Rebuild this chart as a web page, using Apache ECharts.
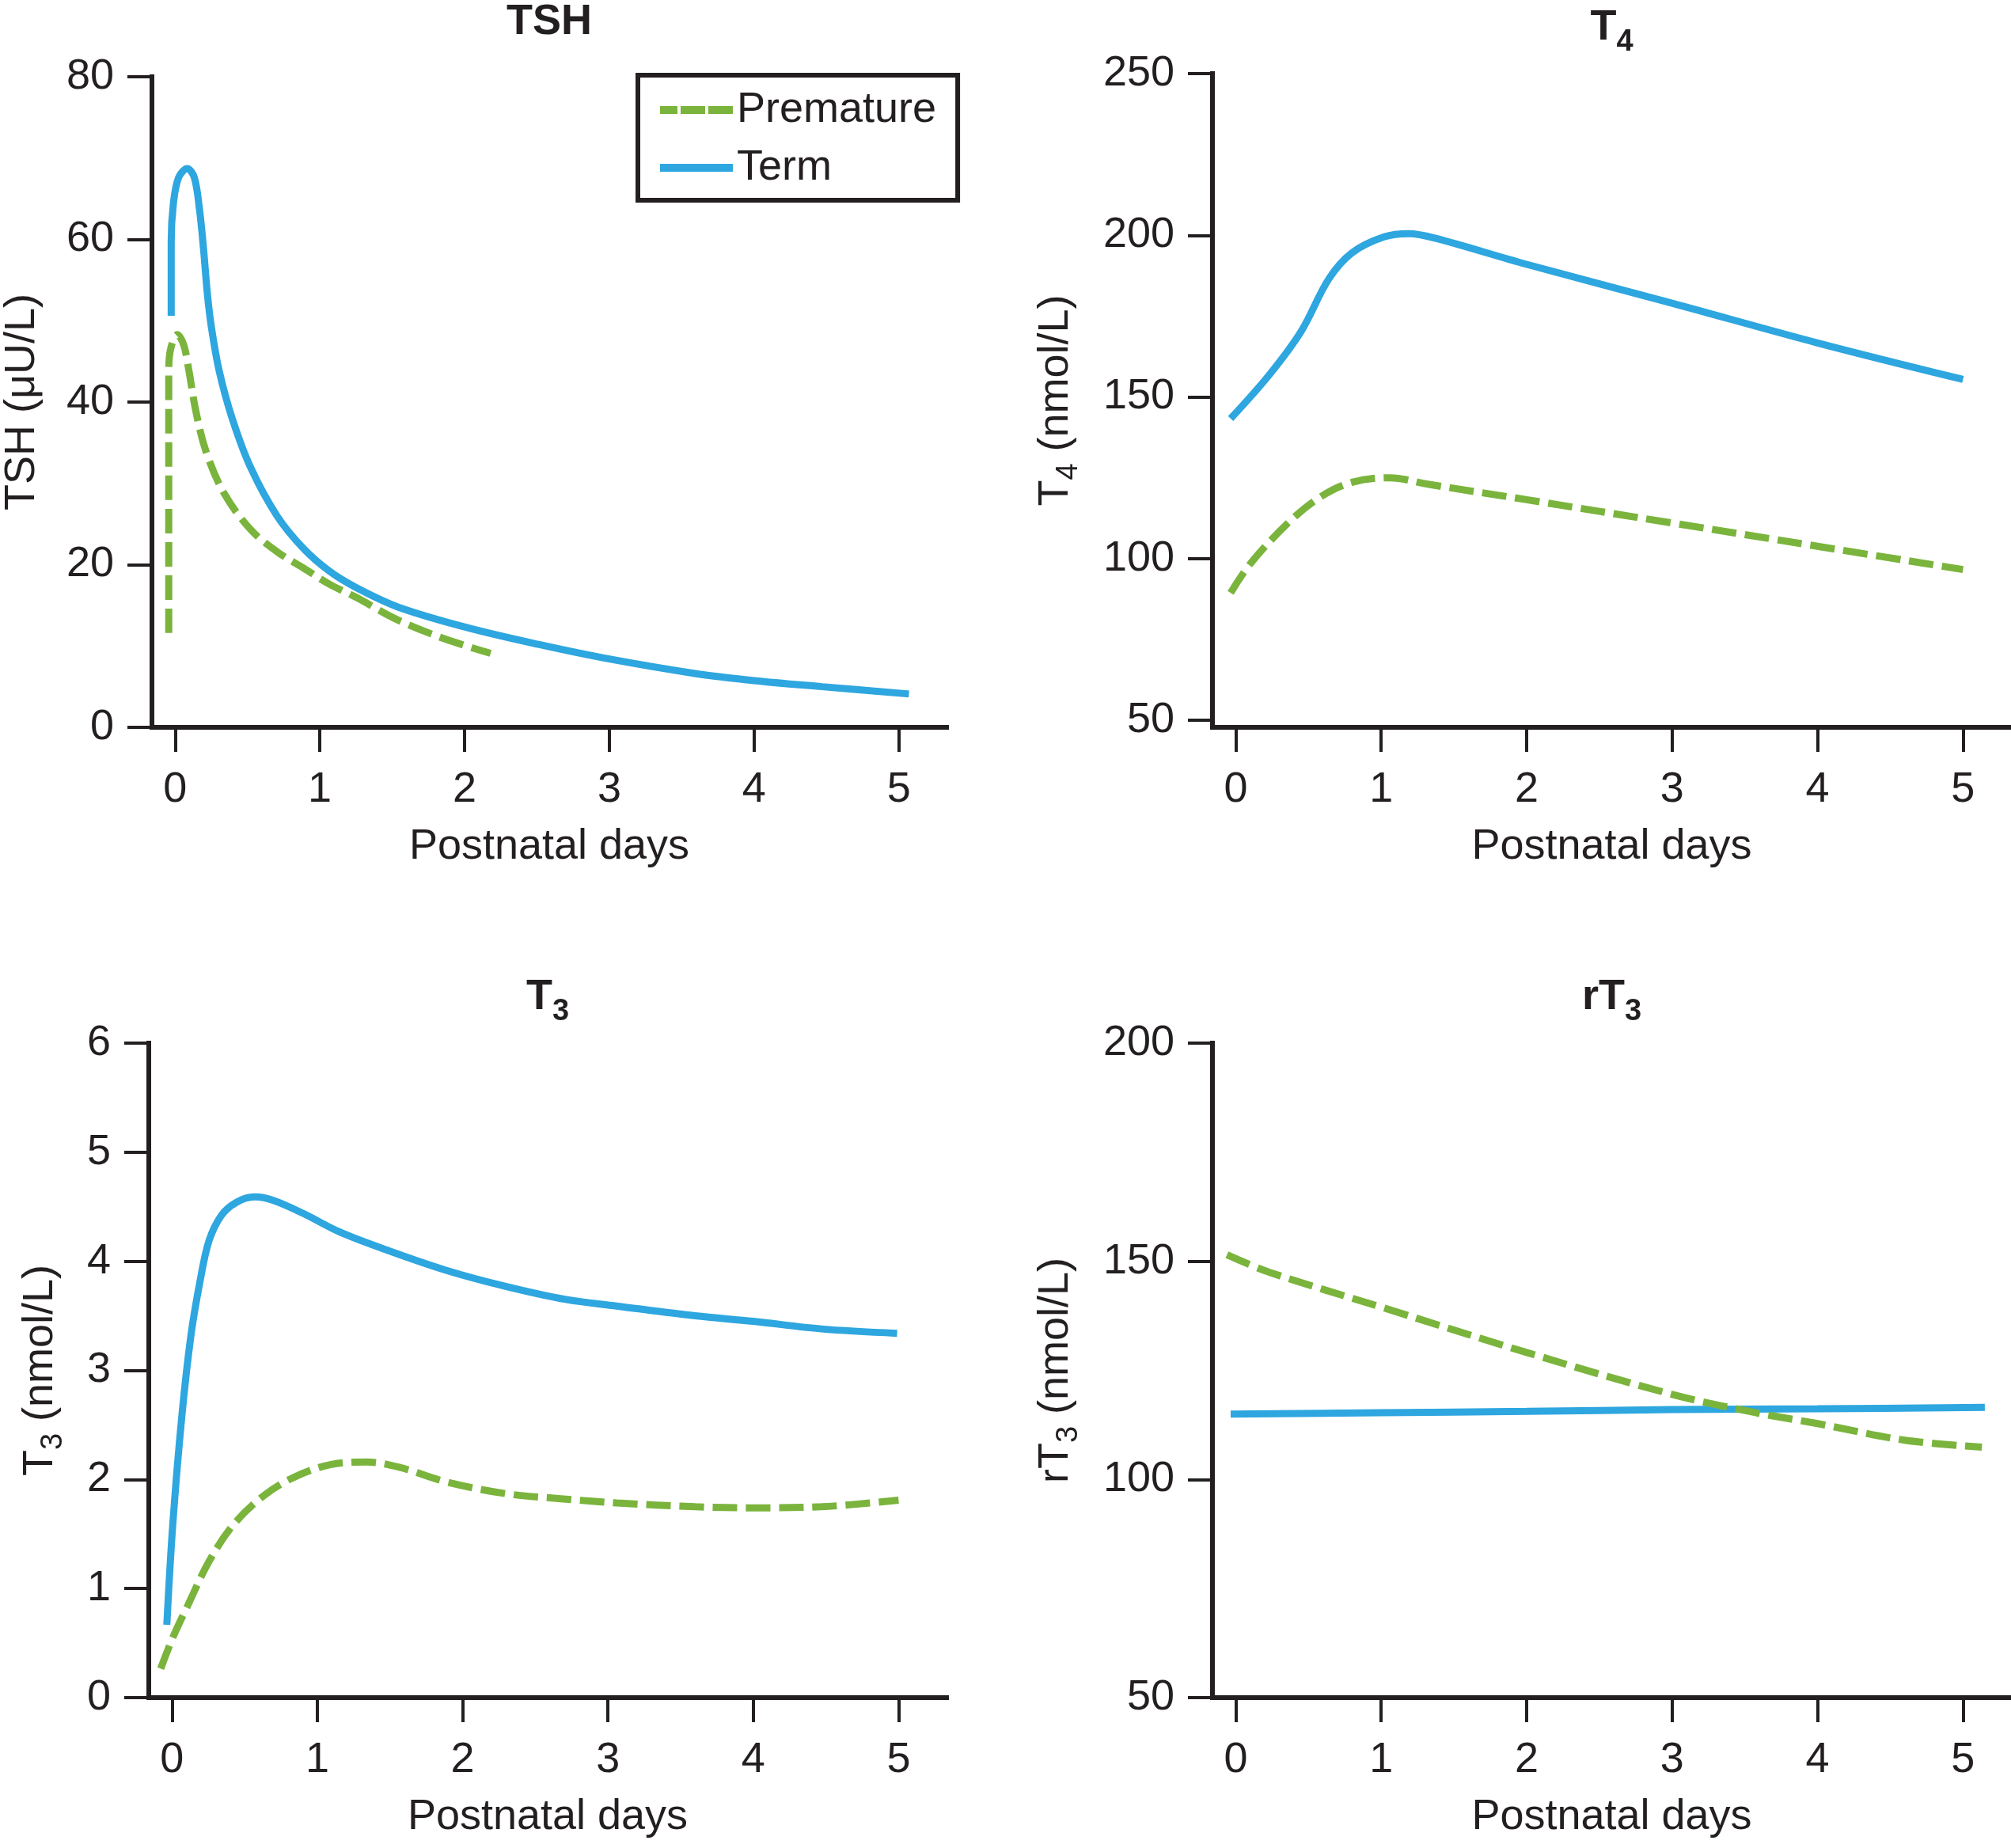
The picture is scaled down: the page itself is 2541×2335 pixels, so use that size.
<!DOCTYPE html>
<html><head><meta charset="utf-8">
<script src="https://cdn.jsdelivr.net/npm/echarts@6/dist/echarts.min.js"></script>
<style>html,body{margin:0;padding:0;background:#fff}#c{width:2541px;height:2335px}</style>
</head><body><div id="c"></div>
<script>
// ---- tick labels ----
const dayTicks = [0, 1, 2, 3, 4, 5];
const t4Ticks = [50, 100, 150, 200, 250];

// ---- TSH panel ----
const tshTermDays = [-0.027, -0.027, -0.012, 0.024, 0.084, 0.133, 0.169, 0.196, 0.223, 0.25, 0.305, 0.396, 0.523, 0.704, 0.886, 1.066, 1.249, 1.539, 2.01, 2.51, 3.0, 3.6, 4.0, 4.47, 5.07];
const tshTermVals = [50.6, 59.7, 64.4, 67.6, 68.7, 67.6, 63.6, 58.9, 53.3, 49.3, 43.8, 37.9, 31.9, 26.0, 22.0, 19.2, 17.2, 14.8, 12.3, 10.2, 8.4, 6.6, 5.75, 5.0, 4.1];
const tshPremDays = [-0.044, -0.044, -0.03, 0.015, 0.06, 0.096, 0.142, 0.214, 0.341, 0.523, 0.704, 0.886, 1.066, 1.249, 1.539, 1.86, 2.18];
const tshPremVals = [11.6, 43.8, 46.6, 48.3, 47.0, 43.8, 39.0, 33.9, 28.7, 24.3, 21.6, 19.6, 17.6, 16.0, 13.2, 10.9, 9.1];

// ---- T4 panel ----
const t4TermDays = [-0.035, 0.23, 0.45, 0.64, 0.8, 1.02, 1.19, 1.37, 2.0, 3.0, 4.0, 5.0];
const t4TermVals = [143.3, 156.8, 170.3, 186.5, 194.6, 199.5, 200.5, 199.1, 191, 179, 166.7, 155.4];
const t4PremDays = [-0.035, 0.1, 0.36, 0.58, 0.8, 1.06, 1.32, 2.0, 3.0, 4.0, 5.0];
const t4PremVals = [89.4, 98.4, 111, 119, 123.6, 125, 123, 118.2, 111, 103.8, 96.6];

// ---- T3 panel ----
const t3TermDays = [-0.036, 0.005, 0.068, 0.13, 0.193, 0.255, 0.339, 0.443, 0.568, 0.693, 0.901, 1.151, 1.463, 1.88, 2.296, 2.71, 3.06, 3.6, 4.0, 4.47, 4.99];
const t3TermVals = [0.667, 1.585, 2.587, 3.32, 3.82, 4.19, 4.42, 4.54, 4.59, 4.56, 4.44, 4.27, 4.11, 3.92, 3.77, 3.65, 3.59, 3.5, 3.45, 3.38, 3.34];
const t3PremDays = [-0.078, 0.005, 0.11, 0.255, 0.422, 0.63, 0.839, 1.089, 1.339, 1.568, 1.88, 2.296, 2.71, 3.06, 3.6, 4.0, 4.47, 5.0];
const t3PremVals = [0.266, 0.55, 0.85, 1.25, 1.585, 1.85, 2.02, 2.136, 2.16, 2.11, 1.98, 1.87, 1.82, 1.785, 1.75, 1.74, 1.75, 1.81];

// ---- rT3 panel ----
const rt3TermDays = [-0.035, 1.0, 2.0, 3.0, 4.0, 5.15];
const rt3TermVals = [115.0, 115.3, 115.6, 116.0, 116.2, 116.5];
const rt3PremDays = [-0.06, 0.23, 1.0, 2.0, 3.0, 3.56, 4.0, 4.6, 5.13];
const rt3PremVals = [151.5, 147.5, 139.5, 129.1, 119.5, 115.4, 112.8, 109.0, 107.4];

const INK = '#231f20';
const GREEN = '#7ab43c';
const BLUE = '#2ea6df';
const FONT = '"Liberation Sans", Arial, Helvetica, sans-serif';

function zip(xs, ys) { return xs.map((x, i) => [x, ys[i]]); }

const grids = [
  {left: 188, top: 93, width: 1008, height: 826},
  {left: 1532, top: 93, width: 1009, height: 826},
  {left: 188, top: 1318, width: 1008, height: 827},
  {left: 1532, top: 1318, width: 1009, height: 827}
];

const axisLineStyle = {show: true, onZero: false, lineStyle: {color: INK, width: 6, cap: 'square'}};
const tickStyle = {show: true, length: 31, inside: false, lineStyle: {color: INK, width: 4}};
const labelStyle = {color: INK, fontSize: 54, fontFamily: FONT, lineHeight: 54};

function bottomAxis(gi) {
  return {
    type: 'value', gridIndex: gi, position: 'bottom', min: -0.16, max: 5.33,
    axisLine: axisLineStyle,
    axisTick: Object.assign({}, tickStyle, {customValues: dayTicks}),
    axisLabel: Object.assign({}, labelStyle, {margin: 52, customValues: dayTicks}),
    splitLine: {show: false},
    name: 'Postnatal days', nameLocation: 'middle', nameGap: 124,
    nameTextStyle: {color: INK, fontSize: 54, fontFamily: FONT, lineHeight: 54}
  };
}
const titleRich = {
  m: {fontSize: 54, fontWeight: 'bold', lineHeight: 54, verticalAlign: 'top', color: INK, fontFamily: FONT},
  s: {fontSize: 38, fontWeight: 'bold', lineHeight: 38, padding: [27, 0, 0, 0], verticalAlign: 'top', color: INK, fontFamily: FONT}
};
function topAxis(gi, title, gap) {
  return {
    type: 'value', gridIndex: gi, position: 'top', min: 0, max: 1,
    axisLine: {show: false, onZero: false}, axisTick: {show: false}, axisLabel: {show: false}, splitLine: {show: false},
    name: title, nameLocation: 'middle', nameGap: gap,
    nameTextStyle: {color: INK, fontSize: 54, fontWeight: 'bold', fontFamily: FONT, lineHeight: 54, rich: titleRich}
  };
}
const nameRich = {
  m: {fontSize: 54, lineHeight: 54, verticalAlign: 'top', color: INK, fontFamily: FONT},
  s: {fontSize: 38, lineHeight: 38, padding: [25, 0, 0, 0], verticalAlign: 'top', color: INK, fontFamily: FONT}
};
function leftAxis(gi, min, max, interval, name, gap, custom) {
  const ax = {
    type: 'value', gridIndex: gi, min: min, max: max,
    axisLine: axisLineStyle,
    axisTick: Object.assign({}, tickStyle),
    axisLabel: Object.assign({}, labelStyle, {margin: 48}),
    splitLine: {show: false},
    name: name, nameLocation: 'middle', nameGap: gap,
    nameTextStyle: {color: INK, fontSize: 54, fontFamily: FONT, lineHeight: 54, rich: nameRich}
  };
  if (custom) {
    ax.axisTick.customValues = custom;
    ax.axisLabel.customValues = custom;
  } else {
    ax.interval = interval;
  }
  return ax;
}

function termSeries(xi, days, vals) {
  return {name: 'Term', type: 'line', xAxisIndex: xi, yAxisIndex: xi, data: zip(days, vals),
    symbol: 'none', smooth: 0.35, lineStyle: {color: BLUE, width: 9}, itemStyle: {color: BLUE}, z: 3};
}
function premSeries(xi, days, vals) {
  return {name: 'Premature', type: 'line', xAxisIndex: xi, yAxisIndex: xi, data: zip(days, vals),
    symbol: 'none', smooth: 0.35, lineStyle: {color: GREEN, width: 9, type: [31, 11]}, itemStyle: {color: GREEN}, z: 4};
}

const option = {
  animation: false,
  backgroundColor: '#ffffff',
  grid: grids,
  xAxis: [
    bottomAxis(0), bottomAxis(1), bottomAxis(2), bottomAxis(3),
    topAxis(0, '{m|TSH}', 42), topAxis(1, '{m|T}{s|4}', 31), topAxis(2, '{m|T}{s|3}', 31), topAxis(3, '{m|rT}{s|3}', 31)
  ],
  yAxis: [
    leftAxis(0, 0, 80, 20, '{m|TSH (μU/L)}', 137, null),
    leftAxis(1, 47.8, 250, null, '{m|T}{s|4}{m| (nmol/L)}', 171, t4Ticks),
    leftAxis(2, 0, 6, 1, '{m|T}{s|3}{m| (nmol/L)}', 110, null),
    leftAxis(3, 50, 200, 50, '{m|rT}{s|3}{m| (nmol/L)}', 171, null)
  ],
  legend: {
    data: [{name: 'Premature', lineStyle: {type: [22, 4, 31, 4, 31, 60]}}, {name: 'Term'}],
    orient: 'vertical', left: 806, top: 95,
    itemWidth: 92, itemHeight: 14, itemGap: 19, itemTextGap: 26,
    padding: [17, 27, 14, 23],
    borderColor: INK, borderWidth: 6, backgroundColor: '#ffffff',
    itemStyle: {opacity: 0},
    lineStyle: {width: 10},
    selectedMode: false,
    textStyle: {color: INK, fontSize: 54, fontFamily: FONT, lineHeight: 52}
  },
  series: [
    termSeries(0, tshTermDays, tshTermVals), premSeries(0, tshPremDays, tshPremVals),
    termSeries(1, t4TermDays, t4TermVals), premSeries(1, t4PremDays, t4PremVals),
    termSeries(2, t3TermDays, t3TermVals), premSeries(2, t3PremDays, t3PremVals),
    termSeries(3, rt3TermDays, rt3TermVals), premSeries(3, rt3PremDays, rt3PremVals)
  ]
};

const chart = echarts.init(document.getElementById('c'), null, {renderer: 'canvas'});
chart.setOption(option);
</script>
</body></html>
